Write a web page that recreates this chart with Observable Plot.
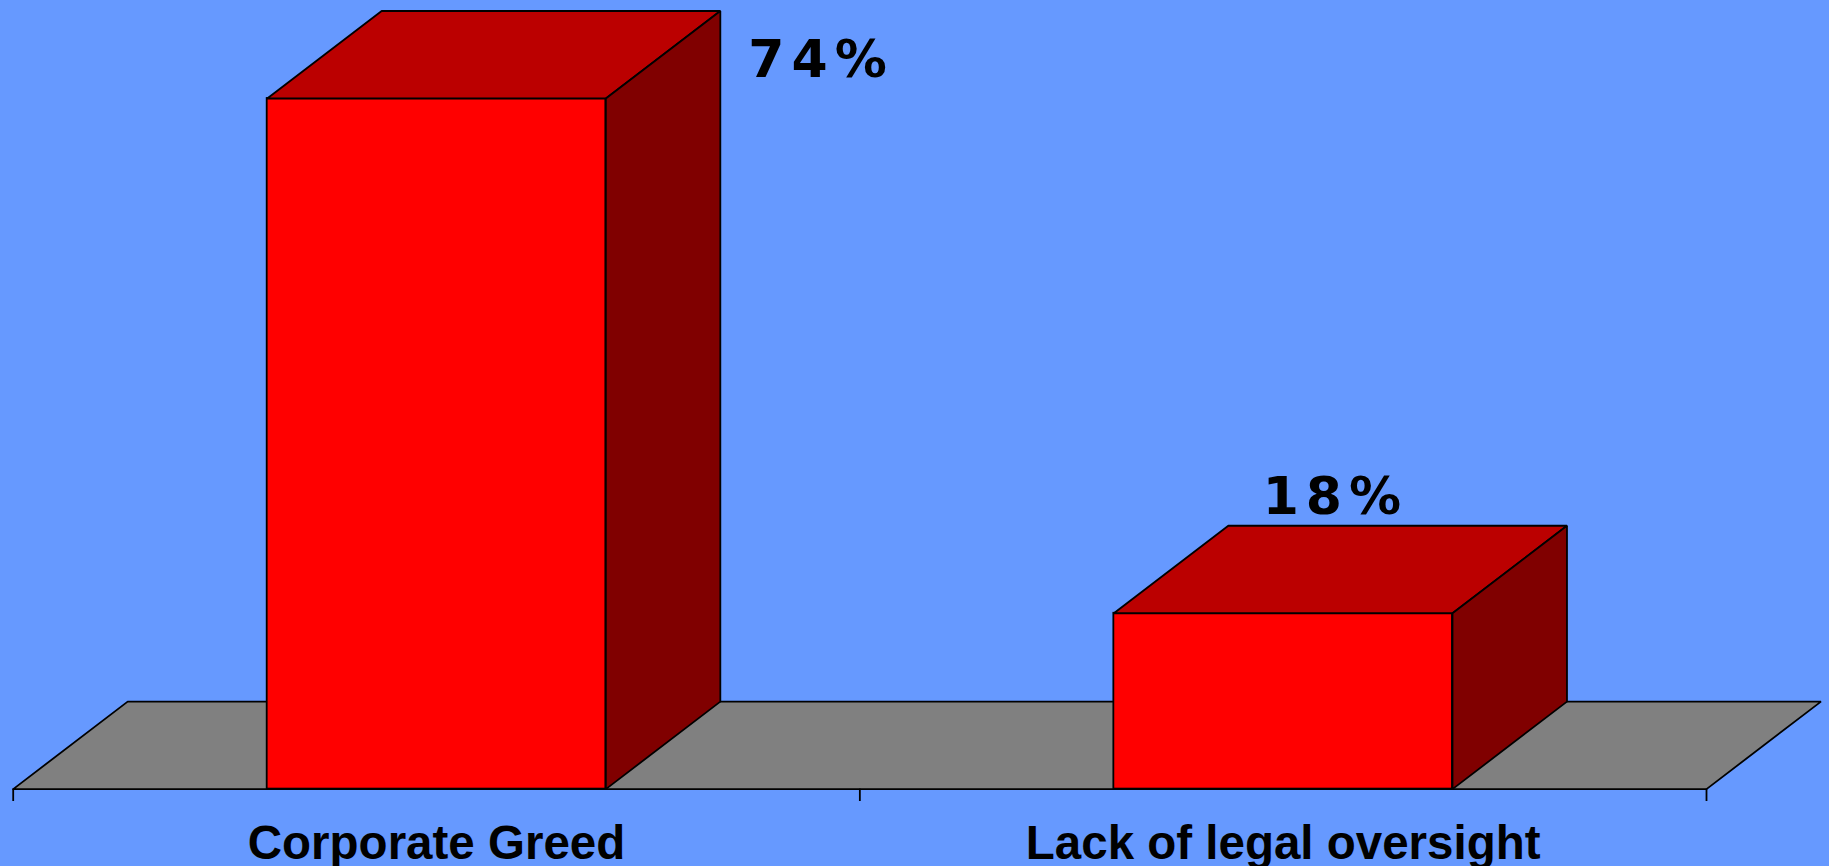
<!DOCTYPE html>
<html>
<head>
<meta charset="utf-8">
<script src="https://cdn.jsdelivr.net/npm/d3@7"></script>
<script src="https://cdn.jsdelivr.net/npm/@observablehq/plot@0.6"></script>
<style>
  html, body { margin: 0; padding: 0; background: #6699FF; overflow: hidden; }
  #chart svg { display: block; }
  .vlabel text { letter-spacing: 7px; }
</style>
</head>
<body>
<div id="chart"></div>
<script>
// ---- data ----
const categories = ["Corporate Greed", "Lack of legal oversight"];
const values = [74, 18];            // percent
const valueLabels = ["74%", "18%"];

// ---- 3D geometry constants (in data units) ----
const FLOOR = -1.13;      // floor level slightly below zero
const DEPTH_X = 0.1352;   // depth offset along x (category units)
const DEPTH_Y = 9.52;     // depth offset along y (value units)
const BAR_L = 0.3, BAR_R = 0.7; // bar front face within each category band

const rows = categories.map((c, i) => ({c, i, v: values[i], label: valueLabels[i]}));

// floor parallelogram
const n = categories.length;
const floorPoly = [
  {x: 0, y: FLOOR}, {x: n, y: FLOOR},
  {x: n + DEPTH_X, y: FLOOR + DEPTH_Y}, {x: 0 + DEPTH_X, y: FLOOR + DEPTH_Y},
  {x: 0, y: FLOOR}
];

// top and side faces
const tops = rows.flatMap(r => {
  const x0 = r.i + BAR_L, x1 = r.i + BAR_R;
  return [
    {x: x0, y: r.v}, {x: x1, y: r.v},
    {x: x1 + DEPTH_X, y: r.v + DEPTH_Y}, {x: x0 + DEPTH_X, y: r.v + DEPTH_Y},
    {x: x0, y: r.v}
  ].map(p => ({...p, z: "top" + r.i}));
});
const sides = rows.flatMap(r => {
  const x1 = r.i + BAR_R;
  return [
    {x: x1, y: FLOOR}, {x: x1 + DEPTH_X, y: FLOOR + DEPTH_Y},
    {x: x1 + DEPTH_X, y: r.v + DEPTH_Y}, {x: x1, y: r.v},
    {x: x1, y: FLOOR}
  ].map(p => ({...p, z: "side" + r.i}));
});

const maxV = d3.max(values);
const SW = 1.8;

const chart = Plot.plot({
  width: 1829,
  height: 866,
  marginLeft: 12.7,
  marginRight: 123,
  marginTop: 98,
  marginBottom: 77.4,
  style: {background: "#6699FF", color: "black", overflow: "visible"},
  x: {type: "linear", domain: [0, n], axis: null, label: null},
  y: {domain: [FLOOR, maxV], axis: null, label: null},
  marks: [
    // floor
    Plot.line(floorPoly, {x: "x", y: "y", fill: "#808080", stroke: "black", strokeWidth: SW, strokeLinejoin: "miter"}),
    // axis ticks at band edges
    Plot.axisX({ticks: d3.range(n + 1), tickSize: 12.4, tickFormat: () => "", label: null, stroke: "black", strokeWidth: SW, anchor: "bottom"}),
    // bar front faces
    Plot.rect(rows, {x1: d => d.i + BAR_L, x2: d => d.i + BAR_R, y1: FLOOR, y2: "v", fill: "#FF0000", stroke: "black", strokeWidth: SW}),
    // top faces
    Plot.line(tops, {x: "x", y: "y", z: "z", fill: "#BB0000", stroke: "black", strokeWidth: SW, strokeLinejoin: "miter"}),
    // side faces
    Plot.line(sides, {x: "x", y: "y", z: "z", fill: "#800000", stroke: "black", strokeWidth: SW, strokeLinejoin: "miter"}),
    // value label for tallest bar: beside the top-back corner
    Plot.text(rows.filter(d => d.v === maxV), {
      x: d => d.i + BAR_R + DEPTH_X, y: d => d.v + DEPTH_Y, text: "label",
      textAnchor: "start", lineAnchor: "bottom", dx: 28, dy: 66,
      fontFamily: "DejaVu Sans", fontWeight: "bold", fontSize: 52, fill: "black", className: "vlabel"
    }),
    // value labels for other bars: above the top face
    Plot.text(rows.filter(d => d.v !== maxV), {
      x: d => d.i + 0.5 + DEPTH_X / 2, y: d => d.v + DEPTH_Y, text: "label",
      textAnchor: "middle", lineAnchor: "bottom", dx: -5, dy: -12,
      fontFamily: "DejaVu Sans", fontWeight: "bold", fontSize: 52, fill: "black", className: "vlabel"
    }),
    // category labels
    Plot.text(rows, {
      x: d => d.i + 0.5, y: FLOOR, text: "c",
      textAnchor: "middle", lineAnchor: "bottom", dy: 69.5,
      fontFamily: "Liberation Sans, Arial, sans-serif", fontWeight: "bold", fontSize: 47.5, fill: "black"
    })
  ]
});
document.getElementById("chart").appendChild(chart);
</script>
</body>
</html>
